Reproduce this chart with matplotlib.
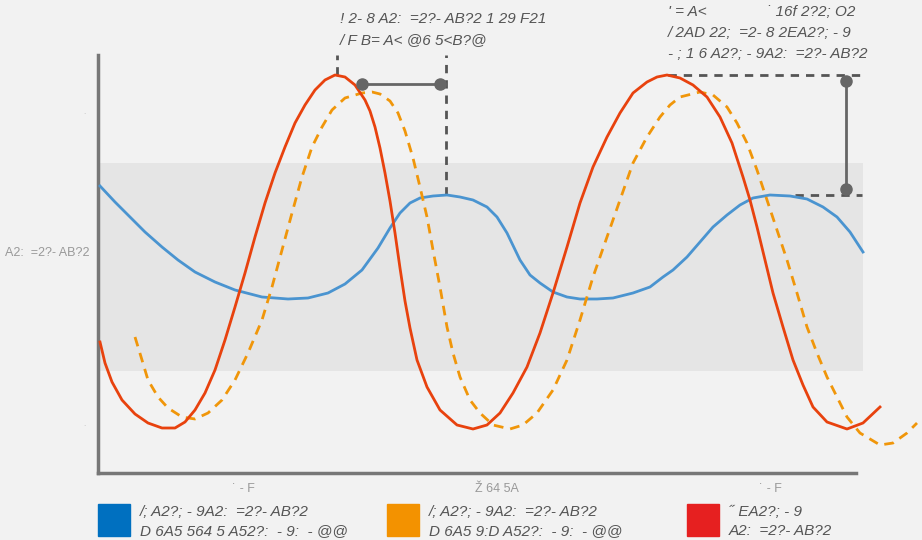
import matplotlib.pyplot as plt

plt.rcParams['font.family'] = ['Liberation Sans', 'DejaVu Sans']

# curve readings (x in time units, y in value units)
red_x = [0.02, 0.07, 0.14, 0.24, 0.37, 0.50, 0.64, 0.77, 0.87, 0.97, 1.07, 1.17, 1.27, 1.37, 1.47,
         1.57, 1.67, 1.77, 1.87, 1.97, 2.07, 2.17, 2.27, 2.37, 2.47, 2.57, 2.67, 2.72, 2.77,
         2.82, 2.87, 2.92, 2.97, 3.02, 3.07, 3.12, 3.19, 3.29, 3.42, 3.59, 3.75, 3.89, 4.02, 4.15,
         4.29, 4.42, 4.55, 4.69, 4.82, 4.95, 5.09, 5.22, 5.35, 5.49, 5.59, 5.69,
         5.82, 5.95, 6.09, 6.22, 6.34, 6.45, 6.52, 6.59, 6.67, 6.75, 6.85, 6.95, 7.05, 7.15,
         7.29, 7.49, 7.65, 7.82]
red_y = [1.31, 1.10, 0.91, 0.73, 0.59, 0.50, 0.45, 0.45, 0.51, 0.63, 0.80, 1.03, 1.33, 1.66, 2.00,
         2.36, 2.70, 3.00, 3.26, 3.50, 3.68, 3.83, 3.93, 3.98, 3.96, 3.88, 3.73, 3.62, 3.46,
         3.25, 3.00, 2.72, 2.40, 2.05, 1.72, 1.45, 1.13, 0.86, 0.63, 0.48, 0.44, 0.48, 0.60, 0.80,
         1.06, 1.40, 1.80, 2.26, 2.70, 3.06, 3.36, 3.60, 3.80, 3.91, 3.96, 3.98,
         3.95, 3.88, 3.76, 3.56, 3.30, 2.96, 2.73, 2.46, 2.13, 1.80, 1.46, 1.13, 0.88, 0.66,
         0.51, 0.44, 0.50, 0.66]

orange_x = [0.37, 0.44, 0.50, 0.60, 0.70, 0.84, 0.97, 1.10, 1.24, 1.37, 1.50, 1.64, 1.74, 1.84,
            1.94, 2.04, 2.14, 2.24, 2.34, 2.47, 2.64, 2.74,
            2.82, 2.92, 3.00, 3.07, 3.15, 3.22, 3.29, 3.35, 3.42, 3.49, 3.55, 3.62, 3.72, 3.82,
            3.95, 4.12, 4.25, 4.39, 4.55, 4.69, 4.82, 4.95, 5.09, 5.22, 5.35, 5.49, 5.62, 5.72,
            5.82, 6.02, 6.15, 6.29, 6.39, 6.49, 6.59, 6.69, 6.79, 6.89, 6.99, 7.09, 7.19, 7.29,
            7.39, 7.49, 7.62, 7.82, 7.95, 8.09, 8.19]
orange_y = [1.36, 1.13, 0.93, 0.76, 0.65, 0.56, 0.54, 0.60, 0.73, 0.93, 1.20, 1.53, 1.86, 2.23,
            2.60, 2.96, 3.26, 3.46, 3.63, 3.75, 3.80, 3.81,
            3.79, 3.72, 3.60, 3.42, 3.15, 2.86, 2.56, 2.23, 1.86, 1.46, 1.20, 0.96, 0.73, 0.60,
            0.48, 0.44, 0.48, 0.60, 0.83, 1.13, 1.53, 1.96, 2.36, 2.73, 3.10, 3.36, 3.56, 3.68,
            3.76, 3.81, 3.78, 3.66, 3.50, 3.30, 3.03, 2.73, 2.43, 2.13, 1.80, 1.46, 1.20, 0.96,
            0.76, 0.56, 0.40, 0.28, 0.30, 0.40, 0.50]

blue_x = [0.02, 0.17, 0.30, 0.47, 0.64, 0.80, 0.97, 1.17, 1.37, 1.64, 1.90, 2.10, 2.30, 2.47,
          2.64, 2.80, 2.92, 3.02, 3.12, 3.22, 3.35, 3.49, 3.62, 3.75, 3.89, 3.99, 4.09, 4.22,
          4.32, 4.42, 4.55, 4.69, 4.82, 4.99, 5.15, 5.35, 5.52, 5.65, 5.75, 5.89, 6.02, 6.15,
          6.29, 6.42, 6.55, 6.72, 6.92, 7.09, 7.25, 7.39, 7.52, 7.65]
blue_y = [2.87, 2.71, 2.58, 2.41, 2.26, 2.13, 2.01, 1.91, 1.83, 1.76, 1.74, 1.75, 1.80, 1.89,
          2.03, 2.25, 2.45, 2.60, 2.70, 2.75, 2.77, 2.78, 2.76, 2.73, 2.66, 2.56, 2.40, 2.13,
          1.98, 1.90, 1.81, 1.76, 1.74, 1.74, 1.75, 1.80, 1.86, 1.96, 2.03, 2.16, 2.31, 2.46,
          2.58, 2.68, 2.75, 2.78, 2.77, 2.74, 2.66, 2.56, 2.41, 2.21]

band_low, band_high = 1.02, 3.10

xtick_pos = [1.45, 3.99, 6.72]
xtick_labels = ['˙ - F', 'Ž 64 5A', '˙ - F']
ylabel_text = 'A2:  =2?- AB?2'

legend_colors = ['#0070c0', '#f39200', '#e62020']
legend_lines = [('/; A2?; - 9A2:  =2?- AB?2', 'D 6A5 564 5 A52?:  - 9:  - @@'),
                ('/; A2?; - 9A2:  =2?- AB?2', 'D 6A5 9:D A52?:  - 9:  - @@'),
                ('˝ EA2?; - 9', 'A2:  =2?- AB?2')]

note1 = ['! 2- 8 A2:  =2?- AB?2 1 29 F21', '/ F B= A< @6 5<B?@']
note2 = ["' = A<              ˙ 16f 2?2; O2", '/ 2AD 22;  =2- 8 2EA2?; - 9',
         '- ; 1 6 A2?; - 9A2:  =2?- AB?2']

bg = '#f2f2f2'
fig = plt.figure(figsize=(9.22, 5.40), dpi=100, facecolor=bg)
ax = fig.add_axes([98 / 922, 67 / 540, 824 / 922, 418 / 540])
ax.set_facecolor(bg)
ax.set_xlim(0, 8.24)
ax.set_ylim(0, 4.18)

ax.fill_between([0, 7.65], band_low, band_high, color='#e5e5e5', lw=0, zorder=0)

ax.plot(blue_x, blue_y, color='#4a94d0', lw=2, zorder=3, clip_on=False)
ax.plot(orange_x, orange_y, color='#f0960a', lw=2, ls=(0, (3.5, 2.5)), zorder=3, clip_on=False)
ax.plot(red_x, red_y, color='#e8420e', lw=2, zorder=4, clip_on=False)

# annotation 1: horizontal gap between peaks
dash_col = '#555555'
ax.plot([2.39, 2.39], [3.98, 4.18], color=dash_col, lw=2, ls=(0, (3, 2.5)), clip_on=False)
ax.plot([3.48, 3.48], [2.78, 4.18], color=dash_col, lw=2, ls=(0, (3, 2.5)), clip_on=False)
ax.plot([2.64, 3.42], [3.89, 3.89], color='#666666', lw=2, marker='o', ms=8, clip_on=False, zorder=5)

# annotation 2: vertical gap
ax.plot([5.70, 7.64], [3.98, 3.98], color=dash_col, lw=2, ls=(0, (3, 2.5)), clip_on=False)
ax.plot([6.97, 7.64], [2.78, 2.78], color=dash_col, lw=2, ls=(0, (3, 2.5)), clip_on=False)
ax.plot([7.48, 7.48], [3.92, 2.84], color='#666666', lw=2, marker='o', ms=8, clip_on=False, zorder=5)

for s in ['top', 'right']:
    ax.spines[s].set_visible(False)
for s in ['left', 'bottom']:
    ax.spines[s].set_color('#777777')
    ax.spines[s].set_linewidth(2.5)
ax.spines['bottom'].set_bounds(0, 7.58)
ax.set_yticks([])
ax.set_xticks(xtick_pos)
ax.set_xticklabels(xtick_labels, color='#999999', fontsize=9)
ax.tick_params(axis='x', length=0, pad=7)

fig.text(5 / 922, 1 - 253 / 540, ylabel_text, color='#999999', fontsize=9, va='center', ha='left')
fig.text(84 / 922, 1 - 113 / 540, '.', color='#bbbbbb', fontsize=6, ha='center', va='center')
fig.text(84 / 922, 1 - 425 / 540, '.', color='#bbbbbb', fontsize=6, ha='center', va='center')

for i, line in enumerate(note1):
    fig.text(340 / 922, 1 - (19 + 21 * i) / 540, line, color='#555555', fontsize=11,
             style='italic', va='center', ha='left')
for i, line in enumerate(note2):
    fig.text(668 / 922, 1 - (12 + 21 * i) / 540, line, color='#555555', fontsize=11,
             style='italic', va='center', ha='left')

legend_x = [98, 387, 687]
for x0, col, (l1, l2) in zip(legend_x, legend_colors, legend_lines):
    fig.patches.append(plt.Rectangle((x0 / 922, 4 / 540), 32 / 922, 32 / 540, color=col,
                                     transform=fig.transFigure, figure=fig))
    fig.text((x0 + 42) / 922, 1 - 512 / 540, l1, color='#555555', fontsize=11, style='italic',
             va='center', ha='left')
    fig.text((x0 + 42) / 922, 1 - 531 / 540, l2, color='#555555', fontsize=11, style='italic',
             va='center', ha='left')

fig.savefig('out.png', dpi=100, facecolor=bg)
